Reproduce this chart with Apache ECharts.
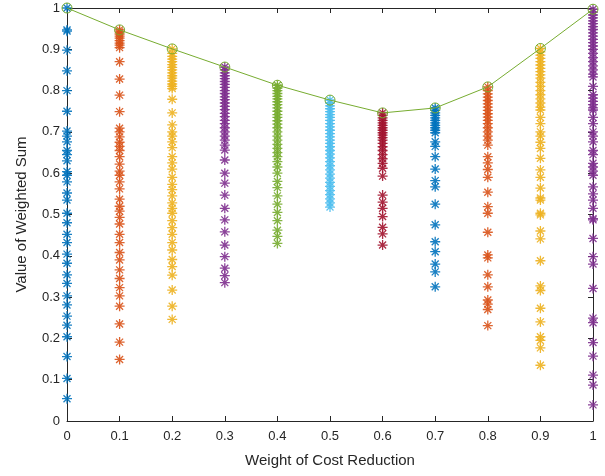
<!DOCTYPE html>
<html><head><meta charset="utf-8">
<script src="https://cdn.jsdelivr.net/npm/echarts@6/dist/echarts.min.js"></script>
<style>html,body{margin:0;padding:0;background:#fff}#c{width:605px;height:476px}</style>
</head><body><div id="c"></div>
<script>
const weights = [0, 0.1, 0.2, 0.3, 0.4, 0.5, 0.6, 0.7, 0.8, 0.9, 1.0];
const colors = ['#0072BD','#D95319','#EDB120','#7E2F8E','#77AC30','#4DBEEE','#A2142F','#0072BD','#D95319','#EDB120','#7E2F8E'];
const w00 = [1.0,0.947,0.944,0.898,0.848,0.80,0.75,0.702,0.69,0.676,0.655,0.645,0.63,0.604,0.595,0.579,0.552,0.535,0.503,0.48,0.452,0.432,0.404,0.382,0.354,0.333,0.303,0.281,0.254,0.232,0.204,0.156,0.103,0.054];
const w01 = [0.947,0.942,0.937,0.932,0.927,0.921,0.915,0.91,0.904,0.87,0.828,0.789,0.749,0.709,0.7,0.688,0.675,0.665,0.655,0.64,0.622,0.605,0.595,0.579,0.562,0.537,0.52,0.508,0.493,0.477,0.452,0.432,0.408,0.39,0.366,0.345,0.323,0.303,0.278,0.235,0.191,0.149];
const w02 = [0.901,0.89,0.883,0.876,0.87,0.863,0.856,0.85,0.843,0.836,0.83,0.823,0.816,0.81,0.805,0.779,0.746,0.717,0.7,0.69,0.676,0.662,0.64,0.625,0.61,0.59,0.573,0.56,0.545,0.528,0.515,0.503,0.485,0.468,0.452,0.432,0.414,0.391,0.374,0.353,0.317,0.278,0.246];
const w03 = [0.857,0.85,0.843,0.836,0.829,0.822,0.815,0.808,0.8,0.793,0.785,0.778,0.77,0.762,0.754,0.745,0.737,0.728,0.72,0.71,0.7,0.69,0.68,0.668,0.656,0.632,0.6,0.576,0.547,0.515,0.487,0.458,0.426,0.398,0.37,0.352,0.335];
const w04 = [0.813,0.806,0.8,0.793,0.786,0.78,0.773,0.766,0.758,0.75,0.742,0.735,0.727,0.719,0.71,0.7,0.69,0.68,0.67,0.66,0.65,0.64,0.628,0.615,0.6,0.58,0.565,0.545,0.525,0.505,0.485,0.462,0.447,0.43];
const w05 = [0.777,0.77,0.763,0.756,0.749,0.742,0.735,0.728,0.72,0.712,0.704,0.696,0.688,0.68,0.672,0.664,0.655,0.646,0.637,0.628,0.618,0.608,0.598,0.588,0.578,0.568,0.558,0.548,0.538,0.528,0.518];
const w06 = [0.746,0.74,0.734,0.728,0.722,0.716,0.71,0.704,0.698,0.692,0.686,0.68,0.672,0.664,0.655,0.645,0.635,0.624,0.612,0.593,0.547,0.53,0.515,0.495,0.469,0.453,0.426];
const w07 = [0.758,0.752,0.746,0.74,0.734,0.728,0.722,0.716,0.71,0.704,0.698,0.676,0.665,0.64,0.61,0.582,0.567,0.525,0.475,0.434,0.41,0.38,0.361,0.325];
const w08 = [0.809,0.8,0.792,0.784,0.776,0.768,0.76,0.752,0.744,0.736,0.728,0.72,0.71,0.7,0.69,0.68,0.668,0.64,0.625,0.609,0.59,0.554,0.519,0.503,0.457,0.402,0.395,0.354,0.325,0.293,0.283,0.27,0.231];
const w09 = [0.902,0.894,0.886,0.878,0.87,0.862,0.854,0.846,0.838,0.83,0.82,0.81,0.8,0.79,0.78,0.77,0.76,0.753,0.735,0.72,0.7,0.69,0.675,0.66,0.636,0.608,0.59,0.564,0.54,0.535,0.503,0.499,0.46,0.441,0.388,0.327,0.316,0.273,0.24,0.204,0.195,0.177,0.135];
const w10 = [0.997,0.99,0.983,0.976,0.969,0.962,0.955,0.948,0.94,0.932,0.924,0.916,0.908,0.9,0.89,0.88,0.87,0.86,0.85,0.84,0.833,0.81,0.79,0.782,0.774,0.766,0.758,0.753,0.735,0.72,0.7,0.69,0.676,0.655,0.645,0.624,0.615,0.605,0.595,0.567,0.55,0.535,0.515,0.49,0.487,0.442,0.398,0.38,0.321,0.249,0.238,0.19,0.157,0.111,0.087,0.039];
const columns = [w00,w01,w02,w03,w04,w05,w06,w07,w08,w09,w10];
const maxValues = [1.0,0.947,0.901,0.857,0.813,0.777,0.746,0.758,0.809,0.902,0.997];

const star = 'path://M5 0L5 10M0 5L10 5M1.5 1.5L8.5 8.5M1.5 8.5L8.5 1.5';
const axisColor = '#262626';
const font = 'Liberation Sans, Arial, Helvetica, sans-serif';

const series = columns.map((col, i) => ({
  type: 'scatter',
  xAxisIndex: 0, yAxisIndex: 0,
  symbol: star, symbolSize: 10,
  clip: false,
  silent: true,
  itemStyle: {color: 'rgba(0,0,0,0)', borderColor: colors[i], borderWidth: 1.3, opacity: 0.9},
  data: col.map(v => [weights[i], v])
}));
series.push({
  type: 'line',
  xAxisIndex: 0, yAxisIndex: 0,
  data: weights.map((w, i) => [w, maxValues[i]]),
  symbol: 'circle', symbolSize: 10,
  showSymbol: true,
  lineStyle: {color: '#77AC30', width: 1},
  itemStyle: {color: 'rgba(0,0,0,0)', borderColor: '#77AC30', borderWidth: 1},
  z: 5, silent: true
});

const baseAxis = {
  min: 0, max: 1, interval: 0.1,
  axisLine: {show: true, onZero: false, lineStyle: {color: axisColor, width: 1}},
  axisTick: {show: true, inside: true, length: 5, lineStyle: {color: axisColor}},
  splitLine: {show: false}
};

const chart = echarts.init(document.getElementById('c'));
chart.setOption({
  animation: false,
  backgroundColor: '#fff',
  grid: {left: 67, right: 12, top: 8, bottom: 55, containLabel: false},
  xAxis: [
    Object.assign({}, baseAxis, {type: 'value', position: 'bottom',
      name: 'Weight of Cost Reduction', nameLocation: 'middle', nameGap: 32,
      nameTextStyle: {color: axisColor, fontSize: 15, fontFamily: font},
      axisLabel: {color: axisColor, fontSize: 13, fontFamily: font, margin: 9}}),
    Object.assign({}, baseAxis, {type: 'value', position: 'top', axisLabel: {show: false}})
  ],
  yAxis: [
    Object.assign({}, baseAxis, {type: 'value', position: 'left',
      name: 'Value of Weighted Sum', nameLocation: 'middle', nameGap: 38,
      nameTextStyle: {color: axisColor, fontSize: 15, fontFamily: font},
      axisLabel: {color: axisColor, fontSize: 13, fontFamily: font, margin: 7}}),
    Object.assign({}, baseAxis, {type: 'value', position: 'right', axisLabel: {show: false}})
  ],
  series: series
});
</script></body></html>
